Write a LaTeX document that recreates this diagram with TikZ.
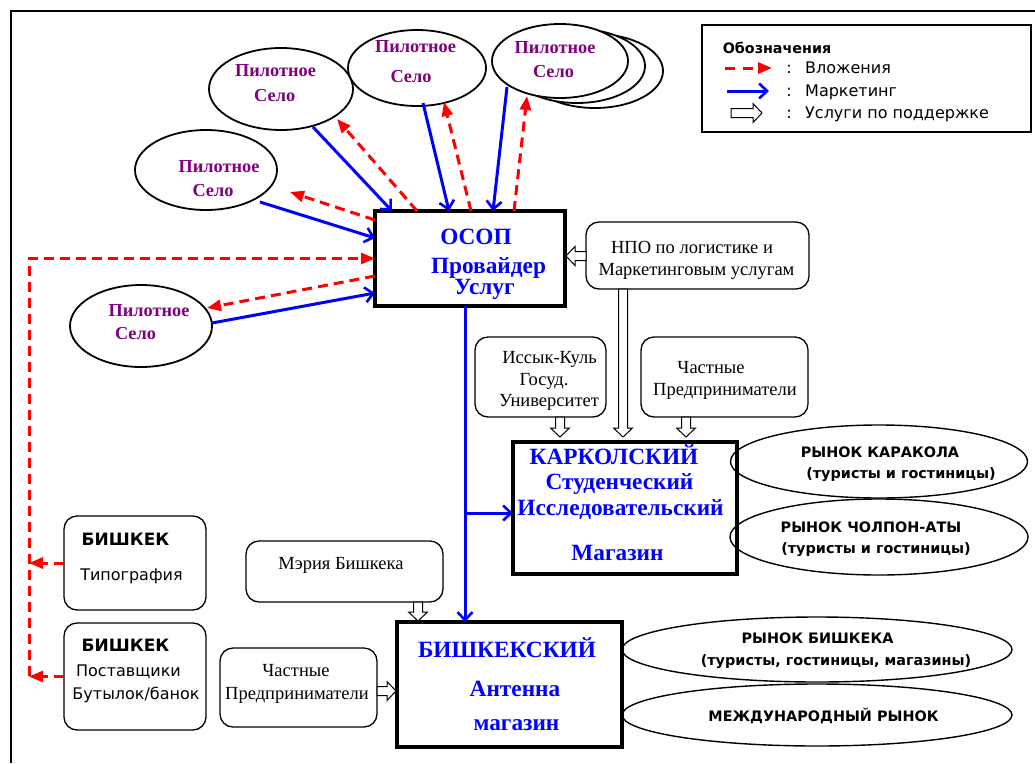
\documentclass[tikz,border=0pt]{standalone}
\usepackage{fontspec}
\setmainfont{Liberation Serif}
\newfontfamily\dvsans{DejaVu Sans}
\usetikzlibrary{arrows.meta,calc,shapes.geometric}
\definecolor{villagepurple}{RGB}{128,0,128}

% hollow block arrow (support services) from #1 to #2
\newcommand\supportarrow[2]{%
  \coordinate (sa-a) at (#1);
  \coordinate (sa-b) at (#2);
  \coordinate (sa-h) at ($(sa-b)!9pt!(sa-a)$);
  \draw[support]
    ($(sa-a)!4.5pt!90:(sa-b)$) -- ($(sa-h)!4.5pt!90:(sa-b)$) --
    ($(sa-h)!9.5pt!90:(sa-b)$) -- (sa-b) --
    ($(sa-h)!9.5pt!-90:(sa-b)$) -- ($(sa-h)!4.5pt!-90:(sa-b)$) --
    ($(sa-a)!4.5pt!-90:(sa-b)$) -- cycle;
}

\tikzset{
  frameline/.style={line width=2.2pt},
  mainbox/.style={draw, line width=3.2pt, inner sep=0pt, outer sep=0pt},
  roundbox/.style={draw, rounded corners=13pt, line width=1.3pt, inner sep=0pt, outer sep=0pt},
  village/.style={ellipse, draw, line width=1.8pt, inner sep=0pt, outer sep=0pt, fill=white},
  market/.style={ellipse, draw, line width=1.4pt, inner sep=0pt, outer sep=0pt},
  mkt/.style={blue, line width=3pt, -{Straight Barb[length=8pt,width=15pt,line width=2.6pt]}},
  inv/.style={red, line width=3pt, dash pattern=on 10pt off 6pt, -{Triangle[length=14pt,width=11pt]}},
  support/.style={draw=black, fill=white, line width=1pt},
  villagetext/.style={text=villagepurple, font=\fontsize{18.3}{20}\selectfont\bfseries, inner sep=0pt, text height=12.1pt, text depth=0pt},
  hubtext/.style={text=blue, font=\fontsize{23.3}{26}\selectfont\bfseries, inner sep=0pt, text height=15.4pt, text depth=0pt},
  serif/.style={font=\fontsize{18.5}{20}\selectfont, inner sep=0pt, text height=12.2pt, text depth=0pt},
  sanslabel/.style={font=\dvsans\fontsize{16}{18}\selectfont, inner sep=0pt, text height=11.7pt, text depth=0pt},
  sansbold/.style={font=\dvsans\bfseries\fontsize{17}{19}\selectfont, inner sep=0pt, text height=12.4pt, text depth=0pt},
  legendtitle/.style={font=\dvsans\bfseries\fontsize{14.3}{16}\selectfont, inner sep=0pt, text height=10.4pt, text depth=0pt},
  markettext/.style={font=\dvsans\bfseries\fontsize{14.4}{16}\selectfont, inner sep=0pt, text height=10.5pt, text depth=0pt},
}

\begin{document}
\begin{tikzpicture}[x=1pt,y=-1pt]
\useasboundingbox (0,0) rectangle (1035,763);
\fill[white] (0,0) rectangle (1035,763);

% outer frame (continues past the right and bottom edges)
\draw[frameline] (11,763) -- (11,11) -- (1035,11);

% ---------- legend ----------
\node[mainbox, line width=2pt, minimum width=329pt, minimum height=107pt] (legend) at (866.5,78.5) {};
\node[legendtitle] (lgtitle) at (777,48) {Обозначения};
\coordinate (lg1a) at (725,68);  \coordinate (lg1b) at (772,68);
\coordinate (lg2a) at (727,91);  \coordinate (lg2b) at (769,91);
\coordinate (lg3a) at (731,113); \coordinate (lg3b) at (762,113);
\draw[inv, dash pattern=on 10pt off 8pt] (lg1a) -- (lg1b);
\draw[mkt] (lg2a) -- (lg2b);
\supportarrow{lg3a}{lg3b}
\node[sanslabel] (lgc1) at (789,68) {:};
\node[sanslabel] (lgc2) at (789,91) {:};
\node[sanslabel] (lgc3) at (789,113) {:};
\node[sanslabel, anchor=west] (lgt1) at (805,68) {Вложения};
\node[sanslabel, anchor=west] (lgt2) at (805,91) {Маркетинг};
\node[sanslabel, anchor=west] (lgt3) at (805,113) {Услуги по поддержке};

% ---------- pilot villages ----------
\node[village, minimum width=142pt, minimum height=80pt] (e1) at (206,170) {};
\node[village, minimum width=144pt, minimum height=82pt] (e2) at (281,89) {};
\node[village, minimum width=138pt, minimum height=76pt] (e3) at (417,68) {};
\node[village, minimum width=136pt, minimum height=74pt] (e4c) at (595,71) {};
\node[village, minimum width=136pt, minimum height=74pt] (e4b) at (577,66) {};
\node[village, minimum width=136pt, minimum height=74pt] (e4) at (560,61) {};
\node[village, minimum width=142pt, minimum height=82pt] (e5) at (141,326) {};

\node[villagetext] (e1a) at (219,166.7) {Пилотное};
\node[villagetext] (e1b) at (213,190.7) {Село};
\node[villagetext] (e2a) at (275.5,70.7) {Пилотное};
\node[villagetext] (e2b) at (274.7,95.7) {Село};
\node[villagetext] (e3a) at (415.5,46.7) {Пилотное};
\node[villagetext] (e3b) at (411,76.7) {Село};
\node[villagetext] (e4a) at (555,47.8) {Пилотное};
\node[villagetext] (e4t) at (553.5,71.7) {Село};
\node[villagetext] (e5a) at (149,310.7) {Пилотное};
\node[villagetext] (e5b) at (135.5,333.3) {Село};

% ---------- service provider ----------
\node[mainbox, line width=3.6pt, minimum width=190pt, minimum height=95pt] (ocop) at (470,258.5) {};
\node[hubtext] (ocop1) at (476,237) {ОСОП};
\node[hubtext] (ocop2) at (488.5,266) {Провайдер};
\node[hubtext] (ocop3) at (484.5,287) {Услуг};

% ---------- supporting organisations ----------
\node[roundbox, minimum width=223pt, minimum height=67pt] (npo) at (697.5,255.5) {};
\node[serif] (npo1) at (692,247) {НПО по логистике и};
\node[serif] (npo2) at (696.5,269) {Маркетинговым услугам};

\node[roundbox, minimum width=131pt, minimum height=80pt] (iss) at (540.5,377) {};
\node[serif] (iss1) at (549.5,357) {Иссык-Куль};
\node[serif] (iss2) at (544,379) {Госуд.};
\node[serif] (iss3) at (549,400) {Университет};

\node[roundbox, minimum width=167pt, minimum height=80pt] (ent1) at (724.5,377) {};
\node[serif] (ent1a) at (711,367) {Частные};
\node[serif] (ent1b) at (725,389) {Предприниматели};

\node[roundbox, minimum width=197pt, minimum height=61pt] (mer) at (344.5,571.5) {};
\node[serif] (mer1) at (341,563) {Мэрия Бишкека};

\node[roundbox, minimum width=157pt, minimum height=79pt] (ent2) at (298.5,687.5) {};
\node[serif] (ent2a) at (296,670) {Частные};
\node[serif] (ent2b) at (297,693) {Предприниматели};

\node[roundbox, minimum width=142pt, minimum height=94pt] (typ) at (135,563) {};
\node[sansbold] (typ1) at (125.5,539) {БИШКЕК};
\node[sanslabel] (typ2) at (131.5,575) {Типография};

\node[roundbox, minimum width=142pt, minimum height=107pt] (sup) at (135,676.5) {};
\node[sansbold] (sup1) at (125.5,645) {БИШКЕК};
\node[sanslabel] (sup2) at (128.5,671) {Поставщики};
\node[sanslabel] (sup3) at (136,694) {Бутылок/банок};

% ---------- shops ----------
\node[mainbox, minimum width=224pt, minimum height=132pt] (kar) at (625,508) {};
\node[hubtext] (kar1) at (614,457) {КАРКОЛСКИЙ};
\node[hubtext] (kar2) at (619.5,482) {Студенческий};
\node[hubtext] (kar3) at (620.5,508) {Исследовательский};
\node[hubtext] (kar4) at (617.5,553) {Магазин};

\node[mainbox, minimum width=225pt, minimum height=125pt] (bsh) at (509.5,684.5) {};
\node[hubtext] (bsh1) at (507,650) {БИШКЕКСКИЙ};
\node[hubtext] (bsh2) at (515,689) {Антенна};
\node[hubtext] (bsh3) at (516.5,723) {магазин};

% ---------- markets ----------
\node[market, minimum width=297pt, minimum height=73pt] (mk1) at (879,461.5) {};
\node[markettext] (mk1a) at (880,452) {РЫНОК КАРАКОЛА};
\node[markettext] (mk1b) at (901,473) {(туристы и гостиницы)};
\node[market, minimum width=298pt, minimum height=76pt] (mk2) at (879,537) {};
\node[markettext] (mk2a) at (871,527) {РЫНОК ЧОЛПОН-АТЫ};
\node[markettext] (mk2b) at (876,548) {(туристы и гостиницы)};
\node[market, minimum width=390pt, minimum height=65pt] (mk3) at (817,649.5) {};
\node[markettext] (mk3a) at (817.5,638) {РЫНОК БИШКЕКА};
\node[markettext] (mk3b) at (836,660) {(туристы, гостиницы, магазины)};
\node[market, minimum width=390pt, minimum height=62pt] (mk4) at (817,715) {};
\node[markettext] (mk4a) at (823.5,716) {МЕЖДУНАРОДНЫЙ РЫНОК};

% ---------- marketing (blue) and investment (red) flows ----------
\draw[mkt] ($(e1)+(54,32)$) -- ([yshift=-27pt]ocop.north west);
\draw[inv] ([yshift=-9pt]ocop.north west) -- ($(e1)+(84,22)$);
\draw[mkt] ($(e2)+(32,38)$) -- ([xshift=17pt]ocop.north west);
\draw[inv] ([xshift=42pt]ocop.north west) -- ($(e2)+(56,30)$);
\draw[mkt] ($(e3)+(6,35)$) -- ([xshift=74pt]ocop.north west);
\draw[inv] ([xshift=96pt]ocop.north west) -- ($(e3)+(27,34)$);
\draw[mkt] ($(e4)+(-53,26)$) -- ([xshift=118pt]ocop.north west);
\draw[inv] ([xshift=139pt]ocop.north west) -- ($(e4)+(-33,35)$);
\draw[mkt] ($(e5)+(71,-3)$) -- ([yshift=-82pt]ocop.north west);
\draw[inv] ([yshift=-65pt]ocop.north west) -- ($(e5)+(66,-18)$);

% Bishkek suppliers and the investment trunk line
\coordinate (trunk) at (29,676);
\draw[inv] (typ.west) -- (typ.west -| trunk);
\draw[inv] (sup.west) -- (sup.west -| trunk);
\draw[inv] (trunk) -- (trunk |- ocop.west) -- (ocop.west);

% marketing line down to the shops
\coordinate (drop) at ([xshift=-5pt]ocop.south);
\coordinate (karin) at ([yshift=-5pt]kar.west);
\draw[mkt] (drop) -- (drop |- bsh.north);
\draw[mkt] (drop |- karin) -- (karin);

% ---------- support services ----------
\supportarrow{[yshift=-0.5pt]npo.west}{[yshift=2.5pt,xshift=1pt]ocop.east}
\supportarrow{[xshift=-74.5pt]npo.south}{[xshift=-2pt,yshift=5pt]kar.north}
\supportarrow{[xshift=19.5pt]iss.south}{[xshift=-65pt,yshift=5pt]kar.north}
\supportarrow{[xshift=-38.5pt]ent1.south}{[xshift=61pt,yshift=5pt]kar.north}
\supportarrow{[xshift=73.5pt]mer.south}{[xshift=-91.5pt,yshift=1pt]bsh.north}
\supportarrow{[yshift=-3.5pt]ent2.east}{[yshift=-6.5pt,xshift=-1pt]bsh.west}
\end{tikzpicture}
\end{document}
